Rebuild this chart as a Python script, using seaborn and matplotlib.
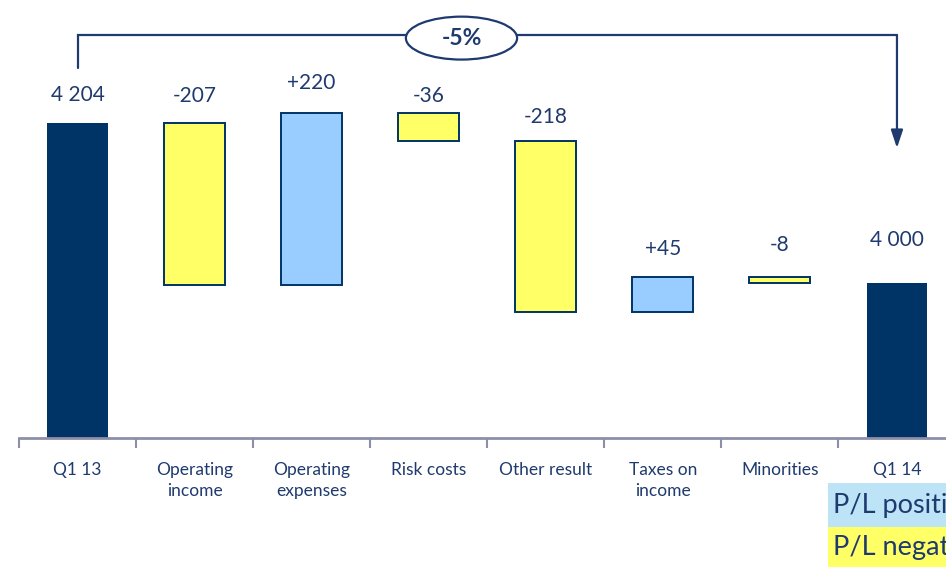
import matplotlib
matplotlib.use("Agg")
import matplotlib.pyplot as plt
import matplotlib.transforms as mtransforms
from matplotlib.patches import Ellipse, Rectangle
import numpy as np
import pandas as pd
import seaborn as sns

# Net profit bridge, Q1 13 -> Q1 14
steps = ["Q1 13", "Operating\nincome", "Operating\nexpenses", "Risk costs",
         "Other result", "Taxes on\nincome", "Minorities", "Q1 14"]
start_value = 4204
deltas = [-207, 220, -36, -218, 45, -8]
end_value = 4000

NAVY = "#003366"
TEXT = "#1F3A6E"
POS = "#99CCFF"
NEG = "#FFFF66"
AXIS_GREY = "#8C8FA8"

sns.set_theme(style="white")
plt.rcParams["font.family"] = ["Lato", "DejaVu Sans"]

# build the waterfall table: bottom, height, kind and label for each step
rows = [dict(step=steps[0], bottom=0, height=start_value, kind="total",
             top=start_value, label=f"{start_value:,}".replace(",", " "))]
level = start_value
for name, d in zip(steps[1:-1], deltas):
    new = level + d
    rows.append(dict(step=name, bottom=min(level, new), height=abs(d),
                     kind="pos" if d > 0 else "neg", top=max(level, new),
                     label=f"{d:+d}"))
    level = new
rows.append(dict(step=steps[-1], bottom=0, height=end_value, kind="total",
                 top=end_value, label=f"{end_value:,}".replace(",", " ")))
df = pd.DataFrame(rows)

fig = plt.figure(figsize=(9.46, 5.67), dpi=100)
ax = fig.add_axes([19 / 946, 129 / 567, 936.5 / 946, 438 / 567])

styles = {"total": dict(color=NAVY, edgecolor=NAVY, linewidth=0),
          "pos": dict(color=POS, edgecolor=NAVY, linewidth=1.4),
          "neg": dict(color=NEG, edgecolor=NAVY, linewidth=1.4)}
for kind, st in styles.items():
    sub = df[df["kind"] == kind]
    sns.barplot(data=sub, x="step", y="height", order=steps,
                bottom=sub["bottom"].to_numpy(), width=0.52, saturation=1,
                errorbar=None, ax=ax, **st)

ax.set_xlim(-0.5, 7.5)
ax.set_ylim(3802, 4361)
ax.set_xlabel("")
ax.set_ylabel("")
ax.set_yticks([])

for s in ["top", "right", "left"]:
    ax.spines[s].set_visible(False)
ax.spines["bottom"].set_color(AXIS_GREY)
ax.spines["bottom"].set_linewidth(2)

# category labels at bar centres, separator ticks between categories
ax.set_xticks(range(len(steps)))
ax.set_xticklabels(steps, color=TEXT, fontsize=12.5, linespacing=1.45)
ax.tick_params(axis="x", which="major", length=0, pad=17)
ax.set_xticks(np.arange(-0.5, len(steps), 1.0), minor=True)
ax.tick_params(axis="x", which="minor", direction="out", length=7,
               width=1.5, color=AXIS_GREY, bottom=True)

# value labels above each bar
label_pad_px = [28, 27, 30, 17, 24, 28, 32, 43]
for i, r in df.iterrows():
    ax.annotate(r["label"], (i, r["top"]), xytext=(0, label_pad_px[i]),
                textcoords="offset pixels", ha="center", va="center",
                fontsize=15, color=TEXT)

# bracket with overall change from Q1 13 to Q1 14
trans = mtransforms.blended_transform_factory(ax.transData, ax.transAxes)
y_line = 0.920
ax.plot([0, 0, 7], [0.845, y_line, y_line], transform=trans, color=TEXT,
        lw=1.6, clip_on=False, solid_joinstyle="miter", zorder=3)
ax.annotate("", xy=(7, 0.662), xycoords=trans, xytext=(7, y_line),
            textcoords=trans,
            arrowprops=dict(arrowstyle="-|>,head_length=0.9,head_width=0.3",
                            color=TEXT, lw=1.6, shrinkA=0, shrinkB=0))
change = (end_value / start_value - 1) * 100
ax.add_patch(Ellipse((3.28, 0.913), 0.95, 0.098, transform=trans,
                     facecolor="white", edgecolor=TEXT, lw=1.6,
                     clip_on=False, zorder=4))
ax.text(3.28, 0.911, f"{change:.0f}%", transform=trans, ha="center",
        va="center", fontsize=16.5, fontweight="bold", color=TEXT, zorder=5)

# colour key in the lower right corner
key = [("P/L positive", "#BDE3F7", 483, 527), ("P/L negative", NEG, 527, 567)]
for text, fc, y0, y1 in key:
    fig.patches.append(Rectangle((828 / 946, 1 - y1 / 567), 1, (y1 - y0) / 567,
                                 transform=fig.transFigure, facecolor=fc,
                                 edgecolor="none", zorder=1))
    fig.text(833 / 946, 1 - (y0 + y1) / 2 / 567, text, fontsize=19.5,
             color=TEXT, va="center", ha="left")

fig.savefig("out.png", dpi=100)
